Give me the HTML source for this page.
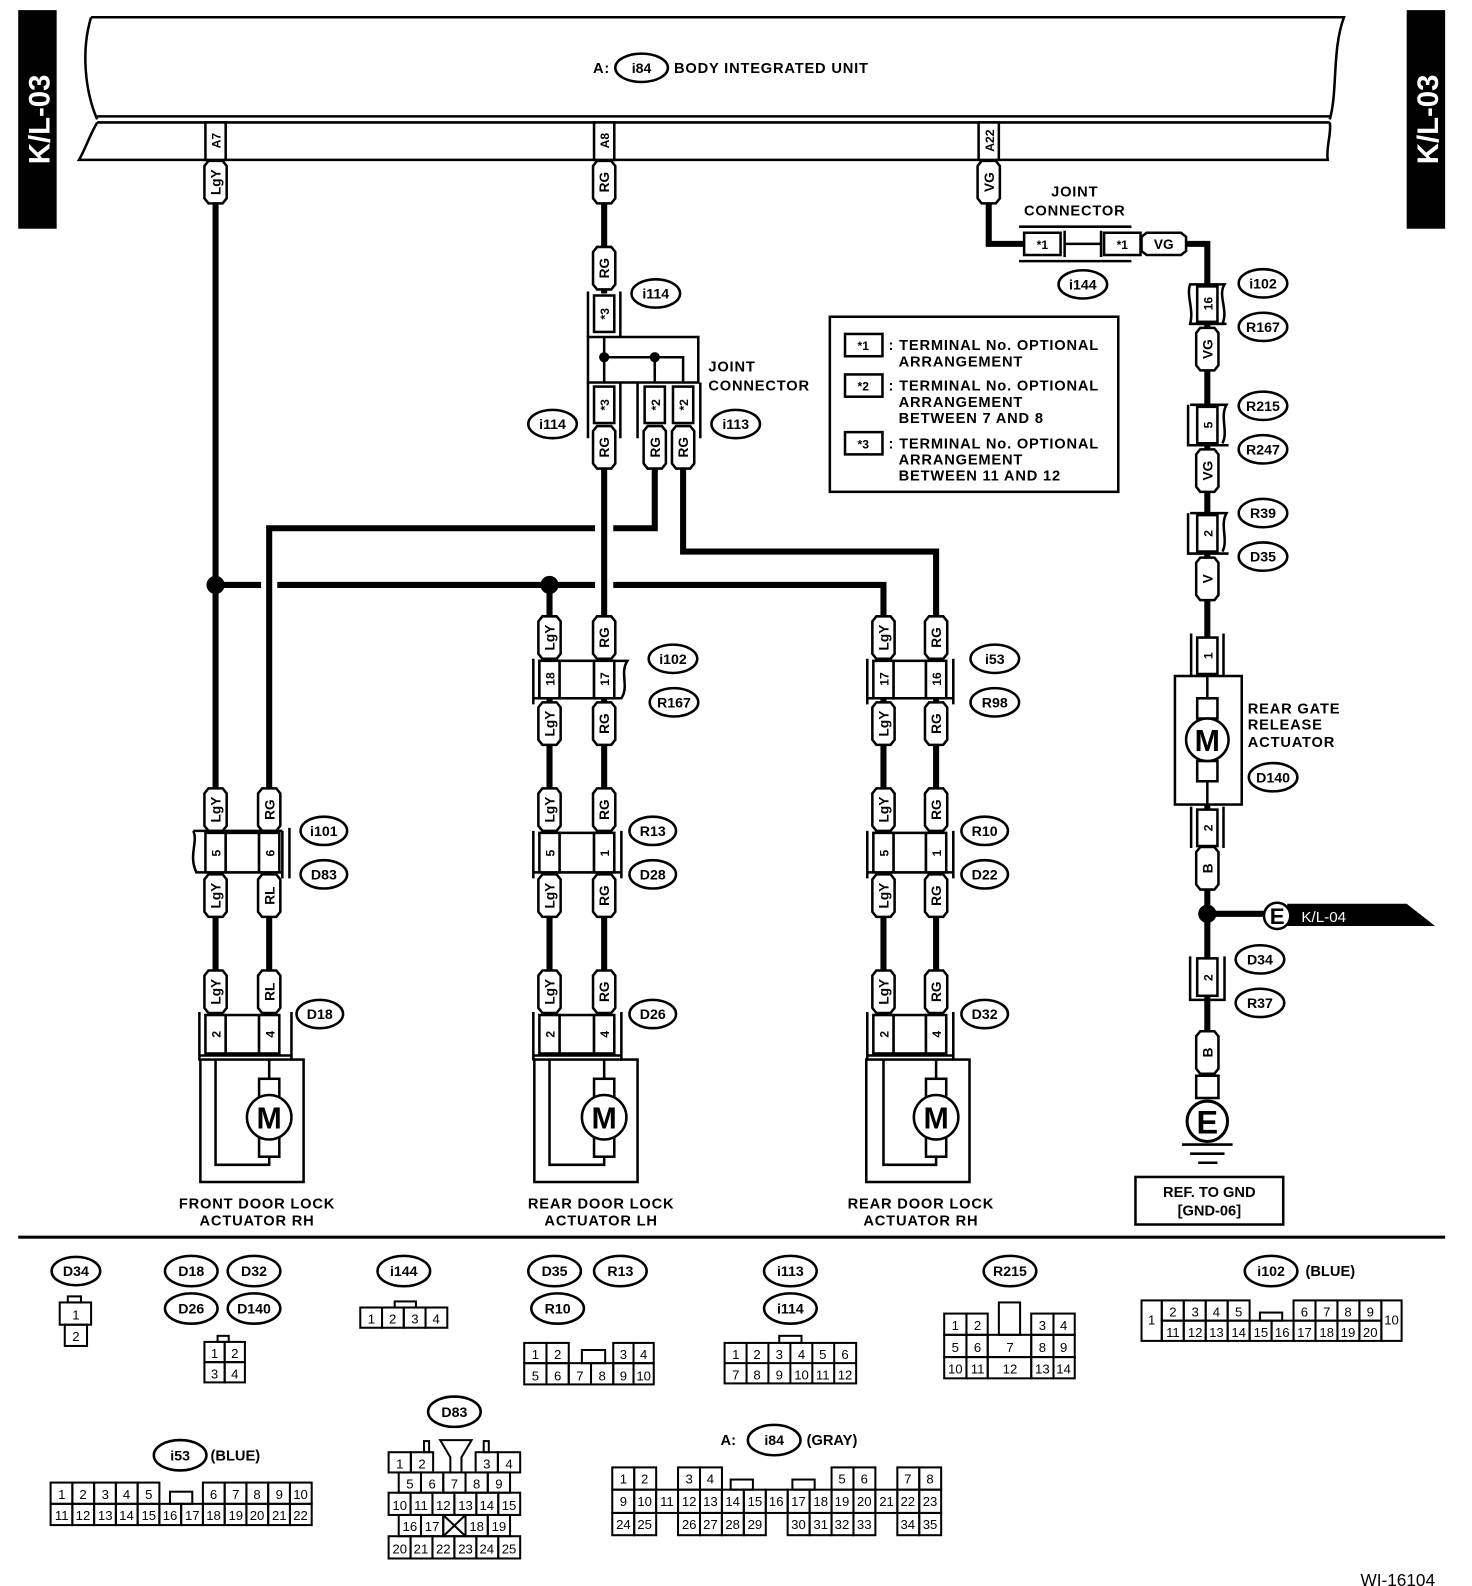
<!DOCTYPE html>
<html><head><meta charset="utf-8"><style>
html,body{margin:0;padding:0;background:#fff}
svg{display:block}
text{font-family:"Liberation Sans",Arial,sans-serif;fill:#000}
.w{stroke:#000;stroke-width:6;fill:none}
.l{stroke:#000;stroke-width:2.5;fill:none}
.lf{stroke:#000;stroke-width:2.5;fill:#fff}
.p{stroke:#000;stroke-width:2.5;fill:#fff}
.pt{font-size:13.5px;font-weight:bold;text-anchor:middle}
.o{stroke:#000;stroke-width:2.5;fill:#fff}
.ot{font-size:14px;font-weight:bold;text-anchor:middle}
.lb{font-size:14.5px;font-weight:bold;letter-spacing:0.8px;text-anchor:start}
.c{font-size:13px;text-anchor:middle}
.ct{font-size:12px;font-weight:bold;text-anchor:middle}
.bc rect{stroke:#000;stroke-width:2;fill:none}
</style></head><body>
<svg width="1472" height="1586" viewBox="0 0 1472 1586" xmlns="http://www.w3.org/2000/svg">
<g transform="scale(1.012)">
<rect x="18" y="10" width="38" height="216" fill="#000"/>
<text transform="translate(49,118) rotate(-90)" style="font-size:29px;font-weight:bold;fill:#fff;text-anchor:middle">K/L-03</text>
<rect x="1390" y="10" width="38" height="216" fill="#000"/>
<text transform="translate(1421,118) rotate(-90)" style="font-size:29px;font-weight:bold;fill:#fff;text-anchor:middle">K/L-03</text>

<path class="l" d="M90,17 H1328 C1316,50 1322,90 1314,118"/>
<path class="l" d="M90,17 C80,50 84,90 96,118 L96,118"/>
<path class="l" d="M96,115 H1314 M96,121 H1314"/>
<path class="l" d="M96,121 C88,135 84,148 78,158 H1312 C1310,145 1316,132 1314,121"/>
<text x="586" y="72" class="lb">A:</text>
<ellipse class="o" cx="634" cy="67" rx="26" ry="14"/>
<text x="634" y="72" class="ot">i84</text>
<text x="666" y="72" class="lb">BODY INTEGRATED UNIT</text>
<rect class="lf" x="203" y="121" width="20" height="37"/><text class="ct" transform="translate(218,139) rotate(-90)">A7</text>
<rect class="lf" x="587" y="121" width="20" height="37"/><text class="ct" transform="translate(602,139) rotate(-90)">A8</text>
<rect class="lf" x="967" y="121" width="20" height="37"/><text class="ct" transform="translate(982,139) rotate(-90)">A22</text>

<path class="w" d="M213,160 V1000"/>
<path class="w" d="M266,1000 V522 H588 M606,522 H647 V463"/>
<path class="w" d="M213,578 H258 M274,578 H588 M606,578 H873 V1000"/>
<path class="w" d="M543,578 V1000"/>
<path class="w" d="M597,160 V290 M597,420 V1000"/>
<path class="w" d="M675,463 V545 H925 V1000"/>
<path class="w" d="M977,160 V241 H1012"/>
<path class="w" d="M1170,241 H1193 V1063"/>
<path class="w" d="M1193,903 H1252"/>
<circle cx="213" cy="578" r="9"/><circle cx="543" cy="578" r="9"/><circle cx="1193" cy="903" r="9"/>

<path class="l" d="M581,288 V333 M613,288 V333"/>
<rect class="lf" x="587" y="292" width="20" height="36"/><text class="ct" transform="translate(602,310) rotate(-90)">*3</text>
<path class="l" d="M581,333 H690 V378 H581 Z M597,333 V378 M597,353 H675 V378 M647,353 V378"/>
<circle cx="597" cy="353" r="5"/><circle cx="647" cy="353" r="5"/>
<path class="l" d="M581,378 V433 M613,378 V433 M630,378 V433 M692,378 V433"/>
<rect class="lf" x="587" y="382" width="20" height="36"/><text class="ct" transform="translate(602,400) rotate(-90)">*3</text>
<rect class="lf" x="637" y="382" width="20" height="36"/><text class="ct" transform="translate(652,400) rotate(-90)">*2</text>
<rect class="lf" x="665" y="382" width="20" height="36"/><text class="ct" transform="translate(680,400) rotate(-90)">*2</text>
<ellipse class="o" cx="648" cy="290" rx="24" ry="14"/><text x="648" y="295" class="ot">i114</text>
<ellipse class="o" cx="546" cy="419" rx="24" ry="14"/><text x="546" y="424" class="ot">i114</text>
<ellipse class="o" cx="727" cy="419" rx="24" ry="14"/><text x="727" y="424" class="ot">i113</text>
<text x="700" y="367" class="lb">JOINT</text><text x="700" y="386" class="lb">CONNECTOR</text>

<text x="1062" y="194" class="lb" style="text-anchor:middle">JOINT</text>
<text x="1062" y="213" class="lb" style="text-anchor:middle">CONNECTOR</text>
<path class="l" d="M1007,224 H1118 M1007,258 H1118 M1052,241 H1088 M1052,228 V254 M1088,228 V254"/>
<rect class="lf" x="1012" y="230" width="36" height="22"/><text x="1030" y="246" class="ct">*1</text>
<rect class="lf" x="1091" y="230" width="36" height="22"/><text x="1109" y="246" class="ct">*1</text>
<path class="p" d="M1133,230 h34 l5,4 v14 l-5,4 h-34 l-5,-4 v-14z"/><text x="1150" y="246" class="pt">VG</text>
<ellipse class="o" cx="1070" cy="281" rx="24" ry="14"/><text x="1070" y="286" class="ot">i144</text>

<rect class="l" x="820" y="313" width="285" height="173"/>
<rect class="lf" x="835" y="330" width="37" height="22"/><text x="853" y="346" class="ct">*1</text>
<text x="878" y="346" class="lb">: TERMINAL No. OPTIONAL</text><text x="888" y="362" class="lb">ARRANGEMENT</text>
<rect class="lf" x="835" y="370" width="37" height="22"/><text x="853" y="386" class="ct">*2</text>
<text x="878" y="386" class="lb">: TERMINAL No. OPTIONAL</text><text x="888" y="402" class="lb">ARRANGEMENT</text><text x="888" y="418" class="lb">BETWEEN 7 AND 8</text>
<rect class="lf" x="835" y="427" width="37" height="22"/><text x="853" y="443" class="ct">*3</text>
<text x="878" y="443" class="lb">: TERMINAL No. OPTIONAL</text><text x="888" y="459" class="lb">ARRANGEMENT</text><text x="888" y="475" class="lb">BETWEEN 11 AND 12</text>

<g>
<path class="p" d="M202,164l4-5h14l4 5v32l-4 5h-14l-4-5z"/><text class="pt" transform="translate(218,180) rotate(-90)">LgY</text>
<path class="p" d="M586,164l4-5h14l4 5v32l-4 5h-14l-4-5z"/><text class="pt" transform="translate(602,180) rotate(-90)">RG</text>
<path class="p" d="M966,164l4-5h14l4 5v32l-4 5h-14l-4-5z"/><text class="pt" transform="translate(982,180) rotate(-90)">VG</text>
<path class="p" d="M586,249l4-5h14l4 5v32l-4 5h-14l-4-5z"/><text class="pt" transform="translate(602,265) rotate(-90)">RG</text>
<path class="p" d="M586,426l4-5h14l4 5v32l-4 5h-14l-4-5z"/><text class="pt" transform="translate(602,442) rotate(-90)">RG</text>
<path class="p" d="M636,426l4-5h14l4 5v32l-4 5h-14l-4-5z"/><text class="pt" transform="translate(652,442) rotate(-90)">RG</text>
<path class="p" d="M664,426l4-5h14l4 5v32l-4 5h-14l-4-5z"/><text class="pt" transform="translate(680,442) rotate(-90)">RG</text>
<path class="p" d="M202,784l4-5h14l4 5v32l-4 5h-14l-4-5z"/><text class="pt" transform="translate(218,800) rotate(-90)">LgY</text>
<path class="p" d="M255,784l4-5h14l4 5v32l-4 5h-14l-4-5z"/><text class="pt" transform="translate(271,800) rotate(-90)">RG</text>
<path class="p" d="M202,869l4-5h14l4 5v32l-4 5h-14l-4-5z"/><text class="pt" transform="translate(218,885) rotate(-90)">LgY</text>
<path class="p" d="M255,869l4-5h14l4 5v32l-4 5h-14l-4-5z"/><text class="pt" transform="translate(271,885) rotate(-90)">RL</text>
<path class="p" d="M202,964l4-5h14l4 5v32l-4 5h-14l-4-5z"/><text class="pt" transform="translate(218,980) rotate(-90)">LgY</text>
<path class="p" d="M255,964l4-5h14l4 5v32l-4 5h-14l-4-5z"/><text class="pt" transform="translate(271,980) rotate(-90)">RL</text>
<path class="p" d="M532,614l4-5h14l4 5v32l-4 5h-14l-4-5z"/><text class="pt" transform="translate(548,630) rotate(-90)">LgY</text>
<path class="p" d="M586,614l4-5h14l4 5v32l-4 5h-14l-4-5z"/><text class="pt" transform="translate(602,630) rotate(-90)">RG</text>
<path class="p" d="M532,699l4-5h14l4 5v32l-4 5h-14l-4-5z"/><text class="pt" transform="translate(548,715) rotate(-90)">LgY</text>
<path class="p" d="M586,699l4-5h14l4 5v32l-4 5h-14l-4-5z"/><text class="pt" transform="translate(602,715) rotate(-90)">RG</text>
<path class="p" d="M532,784l4-5h14l4 5v32l-4 5h-14l-4-5z"/><text class="pt" transform="translate(548,800) rotate(-90)">LgY</text>
<path class="p" d="M586,784l4-5h14l4 5v32l-4 5h-14l-4-5z"/><text class="pt" transform="translate(602,800) rotate(-90)">RG</text>
<path class="p" d="M532,869l4-5h14l4 5v32l-4 5h-14l-4-5z"/><text class="pt" transform="translate(548,885) rotate(-90)">LgY</text>
<path class="p" d="M586,869l4-5h14l4 5v32l-4 5h-14l-4-5z"/><text class="pt" transform="translate(602,885) rotate(-90)">RG</text>
<path class="p" d="M532,964l4-5h14l4 5v32l-4 5h-14l-4-5z"/><text class="pt" transform="translate(548,980) rotate(-90)">LgY</text>
<path class="p" d="M586,964l4-5h14l4 5v32l-4 5h-14l-4-5z"/><text class="pt" transform="translate(602,980) rotate(-90)">RG</text>
<path class="p" d="M862,614l4-5h14l4 5v32l-4 5h-14l-4-5z"/><text class="pt" transform="translate(878,630) rotate(-90)">LgY</text>
<path class="p" d="M914,614l4-5h14l4 5v32l-4 5h-14l-4-5z"/><text class="pt" transform="translate(930,630) rotate(-90)">RG</text>
<path class="p" d="M862,699l4-5h14l4 5v32l-4 5h-14l-4-5z"/><text class="pt" transform="translate(878,715) rotate(-90)">LgY</text>
<path class="p" d="M914,699l4-5h14l4 5v32l-4 5h-14l-4-5z"/><text class="pt" transform="translate(930,715) rotate(-90)">RG</text>
<path class="p" d="M862,784l4-5h14l4 5v32l-4 5h-14l-4-5z"/><text class="pt" transform="translate(878,800) rotate(-90)">LgY</text>
<path class="p" d="M914,784l4-5h14l4 5v32l-4 5h-14l-4-5z"/><text class="pt" transform="translate(930,800) rotate(-90)">RG</text>
<path class="p" d="M862,869l4-5h14l4 5v32l-4 5h-14l-4-5z"/><text class="pt" transform="translate(878,885) rotate(-90)">LgY</text>
<path class="p" d="M914,869l4-5h14l4 5v32l-4 5h-14l-4-5z"/><text class="pt" transform="translate(930,885) rotate(-90)">RG</text>
<path class="p" d="M862,964l4-5h14l4 5v32l-4 5h-14l-4-5z"/><text class="pt" transform="translate(878,980) rotate(-90)">LgY</text>
<path class="p" d="M914,964l4-5h14l4 5v32l-4 5h-14l-4-5z"/><text class="pt" transform="translate(930,980) rotate(-90)">RG</text>
<path class="p" d="M1182,329l4-5h14l4 5v32l-4 5h-14l-4-5z"/><text class="pt" transform="translate(1198,345) rotate(-90)">VG</text>
<path class="p" d="M1182,449l4-5h14l4 5v32l-4 5h-14l-4-5z"/><text class="pt" transform="translate(1198,465) rotate(-90)">VG</text>
<path class="p" d="M1182,556l4-5h14l4 5v32l-4 5h-14l-4-5z"/><text class="pt" transform="translate(1198,572) rotate(-90)">V</text>
<path class="p" d="M1182,842l4-5h14l4 5v32l-4 5h-14l-4-5z"/><text class="pt" transform="translate(1198,858) rotate(-90)">B</text>
<path class="p" d="M1182,1024l4-5h14l4 5v32l-4 5h-14l-4-5z"/><text class="pt" transform="translate(1198,1040) rotate(-90)">B</text>
</g>

<path class="l" d="M191,821 H279 M279,821 V868 M286,818 V868"/>
<path class="lf" d="M191,821 C196,832 186,845 194,862 H279"/>
<rect class="lf" x="203" y="823" width="20" height="39"/><rect class="lf" x="223" y="823" width="33" height="39"/><rect class="lf" x="256" y="823" width="20" height="39"/>
<text class="ct" transform="translate(218,843) rotate(-90)">5</text><text class="ct" transform="translate(271,843) rotate(-90)">6</text>
<path class="l" d="M197,1000 V1048 M288,1000 V1048 M197,1043 H288"/>
<rect class="lf" x="203" y="1003" width="20" height="38"/><rect class="lf" x="223" y="1003" width="33" height="38"/><rect class="lf" x="256" y="1003" width="20" height="38"/>
<text class="ct" transform="translate(218,1022) rotate(-90)">2</text><text class="ct" transform="translate(271,1022) rotate(-90)">4</text>
<rect class="l" x="198" y="1047" width="102" height="121"/>
<path class="l" d="M213,1047 V1151 H266 V1143 M266,1047 V1066"/>
<rect class="lf" x="256" y="1066" width="20" height="18"/><rect class="lf" x="256" y="1124" width="20" height="19"/>
<circle class="lf" cx="266" cy="1104" r="22"/><text x="266" y="1115" style="font-size:30px;font-weight:bold;text-anchor:middle">M</text>
<text x="254" y="1194" class="lb" style="text-anchor:middle">FRONT DOOR LOCK</text><text x="254" y="1211" class="lb" style="text-anchor:middle">ACTUATOR RH</text>
<ellipse class="o" cx="320" cy="821" rx="23" ry="14"/><text x="320" y="826" class="ot">i101</text>
<ellipse class="o" cx="320" cy="864" rx="23" ry="14"/><text x="320" y="869" class="ot">D83</text>
<ellipse class="o" cx="316" cy="1002" rx="23" ry="14"/><text x="316" y="1007" class="ot">D18</text>

<path class="l" d="M527,651 V696 M527,690 H614"/>
<path class="lf" d="M533,653 H620 C612,665 622,678 614,690 H533 Z"/>
<rect class="lf" x="533" y="653" width="20" height="37"/><rect class="lf" x="553" y="653" width="34" height="37"/><rect class="lf" x="587" y="653" width="20" height="37"/>
<text class="ct" transform="translate(548,671) rotate(-90)">18</text><text class="ct" transform="translate(602,671) rotate(-90)">17</text>
<path class="l" d="M527,821 V868 M614,821 V868 M527,862 H614"/>
<rect class="lf" x="533" y="823" width="20" height="39"/><rect class="lf" x="553" y="823" width="34" height="39"/><rect class="lf" x="587" y="823" width="20" height="39"/>
<text class="ct" transform="translate(548,843) rotate(-90)">5</text><text class="ct" transform="translate(602,843) rotate(-90)">1</text>
<path class="l" d="M527,1000 V1048 M614,1000 V1048 M527,1043 H614"/>
<rect class="lf" x="533" y="1003" width="20" height="38"/><rect class="lf" x="553" y="1003" width="34" height="38"/><rect class="lf" x="587" y="1003" width="20" height="38"/>
<text class="ct" transform="translate(548,1022) rotate(-90)">2</text><text class="ct" transform="translate(602,1022) rotate(-90)">4</text>
<rect class="l" x="528" y="1047" width="102" height="121"/>
<path class="l" d="M543,1047 V1151 H597 V1143 M597,1047 V1066"/>
<rect class="lf" x="587" y="1066" width="20" height="18"/><rect class="lf" x="587" y="1124" width="20" height="19"/>
<circle class="lf" cx="597" cy="1104" r="22"/><text x="597" y="1115" style="font-size:30px;font-weight:bold;text-anchor:middle">M</text>
<text x="594" y="1194" class="lb" style="text-anchor:middle">REAR DOOR LOCK</text><text x="594" y="1211" class="lb" style="text-anchor:middle">ACTUATOR LH</text>
<ellipse class="o" cx="665" cy="651" rx="24" ry="14"/><text x="665" y="656" class="ot">i102</text>
<ellipse class="o" cx="666" cy="694" rx="24" ry="14"/><text x="666" y="699" class="ot">R167</text>
<ellipse class="o" cx="645" cy="821" rx="23" ry="14"/><text x="645" y="826" class="ot">R13</text>
<ellipse class="o" cx="645" cy="864" rx="23" ry="14"/><text x="645" y="869" class="ot">D28</text>
<ellipse class="o" cx="645" cy="1002" rx="23" ry="14"/><text x="645" y="1007" class="ot">D26</text>

<path class="l" d="M857,651 V696 M942,651 V696 M857,690 H942"/>
<rect class="lf" x="863" y="653" width="20" height="37"/><rect class="lf" x="883" y="653" width="32" height="37"/><rect class="lf" x="915" y="653" width="20" height="37"/>
<text class="ct" transform="translate(878,671) rotate(-90)">17</text><text class="ct" transform="translate(930,671) rotate(-90)">16</text>
<path class="l" d="M857,821 V868 M942,821 V868 M857,862 H942"/>
<rect class="lf" x="863" y="823" width="20" height="39"/><rect class="lf" x="883" y="823" width="32" height="39"/><rect class="lf" x="915" y="823" width="20" height="39"/>
<text class="ct" transform="translate(878,843) rotate(-90)">5</text><text class="ct" transform="translate(930,843) rotate(-90)">1</text>
<path class="l" d="M857,1000 V1048 M942,1000 V1048 M857,1043 H942"/>
<rect class="lf" x="863" y="1003" width="20" height="38"/><rect class="lf" x="883" y="1003" width="32" height="38"/><rect class="lf" x="915" y="1003" width="20" height="38"/>
<text class="ct" transform="translate(878,1022) rotate(-90)">2</text><text class="ct" transform="translate(930,1022) rotate(-90)">4</text>
<rect class="l" x="856" y="1047" width="102" height="121"/>
<path class="l" d="M873,1047 V1151 H925 V1143 M925,1047 V1066"/>
<rect class="lf" x="915" y="1066" width="20" height="18"/><rect class="lf" x="915" y="1124" width="20" height="19"/>
<circle class="lf" cx="925" cy="1104" r="22"/><text x="925" y="1115" style="font-size:30px;font-weight:bold;text-anchor:middle">M</text>
<text x="910" y="1194" class="lb" style="text-anchor:middle">REAR DOOR LOCK</text><text x="910" y="1211" class="lb" style="text-anchor:middle">ACTUATOR RH</text>
<ellipse class="o" cx="983" cy="651" rx="24" ry="14"/><text x="983" y="656" class="ot">i53</text>
<ellipse class="o" cx="983" cy="694" rx="24" ry="14"/><text x="983" y="699" class="ot">R98</text>
<ellipse class="o" cx="973" cy="821" rx="23" ry="14"/><text x="973" y="826" class="ot">R10</text>
<ellipse class="o" cx="973" cy="864" rx="23" ry="14"/><text x="973" y="869" class="ot">D22</text>
<ellipse class="o" cx="973" cy="1002" rx="23" ry="14"/><text x="973" y="1007" class="ot">D32</text>

<path class="lf" d="M1176,281 H1210 C1203,292 1214,306 1208,320 H1176 C1180,306 1172,292 1176,281Z"/>
<rect class="lf" x="1183" y="283" width="20" height="35"/><text class="ct" transform="translate(1198,300) rotate(-90)">16</text>
<path class="l" d="M1176,320 H1212"/>
<path class="l" d="M1174,400 V440 H1214 M1176,400 H1212 C1205,412 1214,426 1208,438"/>
<rect class="lf" x="1183" y="402" width="20" height="36"/><text class="ct" transform="translate(1198,420) rotate(-90)">5</text>
<path class="l" d="M1174,507 V547 H1214 M1176,507 H1212 C1205,519 1214,533 1208,545"/>
<rect class="lf" x="1183" y="509" width="20" height="36"/><text class="ct" transform="translate(1198,527) rotate(-90)">2</text>
<ellipse class="o" cx="1248" cy="280" rx="24" ry="14"/><text x="1248" y="285" class="ot">i102</text>
<ellipse class="o" cx="1248" cy="323" rx="24" ry="14"/><text x="1248" y="328" class="ot">R167</text>
<ellipse class="o" cx="1248" cy="401" rx="24" ry="14"/><text x="1248" y="406" class="ot">R215</text>
<ellipse class="o" cx="1248" cy="444" rx="24" ry="14"/><text x="1248" y="449" class="ot">R247</text>
<ellipse class="o" cx="1248" cy="507" rx="24" ry="14"/><text x="1248" y="512" class="ot">R39</text>
<ellipse class="o" cx="1248" cy="550" rx="24" ry="14"/><text x="1248" y="555" class="ot">D35</text>
<path class="l" d="M1177,626 V668 M1209,626 V668"/>
<rect class="lf" x="1183" y="630" width="20" height="36"/><text class="ct" transform="translate(1198,648) rotate(-90)">1</text>
<rect class="lf" x="1161" y="668" width="66" height="127"/>
<path class="l" d="M1193,668 V690 M1193,772 V795"/>
<rect class="lf" x="1183" y="690" width="20" height="20"/><rect class="lf" x="1183" y="752" width="20" height="20"/>
<circle class="lf" cx="1193" cy="731" r="21"/><text x="1193" y="742" style="font-size:30px;font-weight:bold;text-anchor:middle">M</text>
<text x="1233" y="705" class="lb">REAR GATE</text><text x="1233" y="721" class="lb">RELEASE</text><text x="1233" y="738" class="lb">ACTUATOR</text>
<ellipse class="o" cx="1258" cy="768" rx="24" ry="14"/><text x="1258" y="773" class="ot">D140</text>
<path class="l" d="M1177,797 V838 M1209,797 V838"/>
<rect class="lf" x="1183" y="800" width="20" height="36"/><text class="ct" transform="translate(1198,818) rotate(-90)">2</text>
<path d="M1272,893 H1390 L1418,915 H1272 Z" fill="#000"/>
<circle class="lf" cx="1262" cy="905" r="13"/><text x="1262" y="913" style="font-size:22px;font-weight:bold;text-anchor:middle">E</text>
<text x="1286" y="911" style="font-size:15px;fill:#fff">K/L-04</text>
<path class="l" d="M1176,945 V988 H1210 V945"/>
<rect class="lf" x="1183" y="947" width="20" height="37"/><text class="ct" transform="translate(1198,966) rotate(-90)">2</text>
<ellipse class="o" cx="1245" cy="948" rx="24" ry="14"/><text x="1245" y="953" class="ot">D34</text>
<ellipse class="o" cx="1245" cy="991" rx="24" ry="14"/><text x="1245" y="996" class="ot">R37</text>
<rect class="lf" x="1182" y="1063" width="22" height="22"/>
<circle class="lf" cx="1193" cy="1108" r="20" style="stroke-width:3"/><text x="1193" y="1120" style="font-size:32px;font-weight:bold;text-anchor:middle">E</text>
<path class="l" d="M1168,1131 H1218 M1176,1140 H1210 M1184,1149 H1203"/>
<rect class="l" x="1122" y="1163" width="146" height="47"/>
<text x="1195" y="1183" class="lb" style="text-anchor:middle;letter-spacing:0">REF. TO GND</text>
<text x="1195" y="1201" class="lb" style="text-anchor:middle;letter-spacing:0">[GND-06]</text>

<rect x="18" y="1221" width="1410" height="3" fill="#000"/>

<g class="c bc">
<ellipse class="o" cx="75" cy="1256" rx="24" ry="14"/><text x="75" y="1261" class="ot">D34</text>
<rect x="67" y="1281" width="13" height="6"/>
<rect x="59" y="1287" width="31" height="22"/><text x="75" y="1304">1</text>
<rect x="64" y="1309" width="22" height="21"/><text x="75" y="1325">2</text>

<ellipse class="o" cx="189" cy="1256" rx="26" ry="15"/><text x="189" y="1261" class="ot">D18</text>
<ellipse class="o" cx="251" cy="1256" rx="26" ry="15"/><text x="251" y="1261" class="ot">D32</text>
<ellipse class="o" cx="189" cy="1293" rx="26" ry="15"/><text x="189" y="1298" class="ot">D26</text>
<ellipse class="o" cx="251" cy="1293" rx="26" ry="15"/><text x="251" y="1298" class="ot">D140</text>
<rect x="215" y="1320" width="11" height="6"/>
<rect x="202" y="1326" width="20" height="20"/><rect x="222" y="1326" width="20" height="20"/><rect x="202" y="1346" width="20" height="20"/><rect x="222" y="1346" width="20" height="20"/>
<text x="212" y="1342">1</text><text x="232" y="1342">2</text><text x="212" y="1362">3</text><text x="232" y="1362">4</text>

<ellipse class="o" cx="399" cy="1256" rx="26" ry="15"/><text x="399" y="1261" class="ot">i144</text>
<rect x="390" y="1286" width="21" height="6"/>
<rect x="356" y="1292" width="21.5" height="20"/><rect x="377.5" y="1292" width="21.5" height="20"/><rect x="399" y="1292" width="21.5" height="20"/><rect x="420.5" y="1292" width="21.5" height="20"/>
<text x="367" y="1308">1</text><text x="388" y="1308">2</text><text x="410" y="1308">3</text><text x="431" y="1308">4</text>

<ellipse class="o" cx="548" cy="1256" rx="26" ry="15"/><text x="548" y="1261" class="ot">D35</text>
<ellipse class="o" cx="613" cy="1256" rx="26" ry="15"/><text x="613" y="1261" class="ot">R13</text>
<ellipse class="o" cx="551" cy="1293" rx="26" ry="15"/><text x="551" y="1298" class="ot">R10</text>
<rect x="575" y="1334" width="23" height="13"/>
<rect x="518" y="1327" width="22" height="20"/><rect x="540" y="1327" width="22" height="20"/><rect x="606" y="1327" width="20" height="20"/><rect x="626" y="1327" width="20" height="20"/>
<rect x="518" y="1347" width="22" height="21"/><rect x="540" y="1347" width="22" height="21"/><rect x="562" y="1347" width="22" height="21"/><rect x="584" y="1347" width="22" height="21"/><rect x="606" y="1347" width="20" height="21"/><rect x="626" y="1347" width="20" height="21"/>
<text x="529" y="1343">1</text><text x="551" y="1343">2</text><text x="616" y="1343">3</text><text x="636" y="1343">4</text>
<text x="529" y="1364">5</text><text x="551" y="1364">6</text><text x="573" y="1364">7</text><text x="595" y="1364">8</text><text x="616" y="1364">9</text><text x="636" y="1364">10</text>

<ellipse class="o" cx="781" cy="1256" rx="26" ry="15"/><text x="781" y="1261" class="ot">i113</text>
<ellipse class="o" cx="781" cy="1293" rx="26" ry="15"/><text x="781" y="1298" class="ot">i114</text>
<rect x="770" y="1320" width="22" height="7"/>
<rect x="716" y="1327" width="130" height="40"/>
<path class="l" style="stroke-width:2" d="M716,1347 H846 M737.7,1327 V1367 M759.3,1327 V1367 M781,1327 V1367 M802.7,1327 V1367 M824.3,1327 V1367"/>
<text x="727" y="1343">1</text><text x="748" y="1343">2</text><text x="770" y="1343">3</text><text x="792" y="1343">4</text><text x="813" y="1343">5</text><text x="835" y="1343">6</text>
<text x="727" y="1363">7</text><text x="748" y="1363">8</text><text x="770" y="1363">9</text><text x="792" y="1363">10</text><text x="813" y="1363">11</text><text x="835" y="1363">12</text>

<ellipse class="o" cx="998" cy="1256" rx="26" ry="15"/><text x="998" y="1261" class="ot">R215</text>
<rect x="987" y="1287" width="21" height="32"/>
<rect x="933" y="1298" width="22" height="21"/><rect x="955" y="1298" width="21" height="21"/><rect x="1019" y="1298" width="22" height="21"/><rect x="1041" y="1298" width="21" height="21"/>
<rect x="933" y="1319" width="22" height="22"/><rect x="955" y="1319" width="21" height="22"/><rect x="976" y="1319" width="43" height="22"/><rect x="1019" y="1319" width="22" height="22"/><rect x="1041" y="1319" width="21" height="22"/>
<rect x="933" y="1341" width="22" height="21"/><rect x="955" y="1341" width="21" height="21"/><rect x="976" y="1341" width="43" height="21"/><rect x="1019" y="1341" width="22" height="21"/><rect x="1041" y="1341" width="21" height="21"/>
<text x="944" y="1314">1</text><text x="966" y="1314">2</text><text x="1030" y="1314">3</text><text x="1051" y="1314">4</text>
<text x="944" y="1336">5</text><text x="966" y="1336">6</text><text x="998" y="1336">7</text><text x="1030" y="1336">8</text><text x="1051" y="1336">9</text>
<text x="944" y="1357">10</text><text x="966" y="1357">11</text><text x="998" y="1357">12</text><text x="1030" y="1357">13</text><text x="1051" y="1357">14</text>

<ellipse class="o" cx="1256" cy="1256" rx="26" ry="15"/><text x="1256" y="1261" class="ot">i102</text>
<text x="1290" y="1261" class="lb" style="letter-spacing:0">(BLUE)</text>
<rect x="1245" y="1297" width="22" height="8"/>
<rect x="1128" y="1285" width="20" height="40"/><rect x="1365" y="1285" width="20" height="40"/>
<rect x="1148" y="1285" width="21.7" height="20"/><rect x="1169.7" y="1285" width="21.7" height="20"/><rect x="1191.4" y="1285" width="21.7" height="20"/><rect x="1213.1" y="1285" width="21.7" height="20"/>
<rect x="1278.2" y="1285" width="21.7" height="20"/><rect x="1299.9" y="1285" width="21.7" height="20"/><rect x="1321.6" y="1285" width="21.7" height="20"/><rect x="1343.3" y="1285" width="21.7" height="20"/>
<rect x="1148" y="1305" width="21.7" height="20"/><rect x="1169.7" y="1305" width="21.7" height="20"/><rect x="1191.4" y="1305" width="21.7" height="20"/><rect x="1213.1" y="1305" width="21.7" height="20"/><rect x="1234.8" y="1305" width="21.7" height="20"/><rect x="1256.5" y="1305" width="21.7" height="20"/><rect x="1278.2" y="1305" width="21.7" height="20"/><rect x="1299.9" y="1305" width="21.7" height="20"/><rect x="1321.6" y="1305" width="21.7" height="20"/><rect x="1343.3" y="1305" width="21.7" height="20"/>
<text x="1138" y="1309">1</text><text x="1375" y="1309">10</text>
<text x="1159" y="1301">2</text><text x="1181" y="1301">3</text><text x="1202" y="1301">4</text><text x="1224" y="1301">5</text>
<text x="1289" y="1301">6</text><text x="1311" y="1301">7</text><text x="1332" y="1301">8</text><text x="1354" y="1301">9</text>
<text x="1159" y="1321">11</text><text x="1181" y="1321">12</text><text x="1202" y="1321">13</text><text x="1224" y="1321">14</text><text x="1246" y="1321">15</text><text x="1267" y="1321">16</text><text x="1289" y="1321">17</text><text x="1311" y="1321">18</text><text x="1332" y="1321">19</text><text x="1354" y="1321">20</text>

<ellipse class="o" cx="178" cy="1438" rx="26" ry="15"/><text x="178" y="1443" class="ot">i53</text>
<text x="208" y="1443" class="lb" style="letter-spacing:0">(BLUE)</text>
<rect x="168" y="1474" width="22" height="12"/>
<rect x="50" y="1465" width="21.5" height="21"/><rect x="71.5" y="1465" width="21.5" height="21"/><rect x="93" y="1465" width="21.5" height="21"/><rect x="114.5" y="1465" width="21.5" height="21"/><rect x="136" y="1465" width="21.5" height="21"/>
<rect x="200.5" y="1465" width="21.5" height="21"/><rect x="222" y="1465" width="21.5" height="21"/><rect x="243.5" y="1465" width="21.5" height="21"/><rect x="265" y="1465" width="21.5" height="21"/><rect x="286.5" y="1465" width="21.5" height="21"/>
<rect x="50" y="1486" width="21.5" height="21"/><rect x="71.5" y="1486" width="21.5" height="21"/><rect x="93" y="1486" width="21.5" height="21"/><rect x="114.5" y="1486" width="21.5" height="21"/><rect x="136" y="1486" width="21.5" height="21"/><rect x="157.5" y="1486" width="21.5" height="21"/><rect x="179" y="1486" width="21.5" height="21"/><rect x="200.5" y="1486" width="21.5" height="21"/><rect x="222" y="1486" width="21.5" height="21"/><rect x="243.5" y="1486" width="21.5" height="21"/><rect x="265" y="1486" width="21.5" height="21"/><rect x="286.5" y="1486" width="21.5" height="21"/>
<text x="61" y="1481">1</text><text x="82" y="1481">2</text><text x="104" y="1481">3</text><text x="125" y="1481">4</text><text x="147" y="1481">5</text>
<text x="211" y="1481">6</text><text x="233" y="1481">7</text><text x="254" y="1481">8</text><text x="276" y="1481">9</text><text x="297" y="1481">10</text>
<text x="61" y="1502">11</text><text x="82" y="1502">12</text><text x="104" y="1502">13</text><text x="125" y="1502">14</text><text x="147" y="1502">15</text><text x="168" y="1502">16</text><text x="190" y="1502">17</text><text x="211" y="1502">18</text><text x="233" y="1502">19</text><text x="254" y="1502">20</text><text x="276" y="1502">21</text><text x="297" y="1502">22</text>

<ellipse class="o" cx="449" cy="1395" rx="26" ry="15"/><text x="449" y="1400" class="ot">D83</text>
<rect x="419" y="1424" width="5" height="11"/><rect x="478" y="1424" width="5" height="11"/>
<path class="l" style="stroke-width:2" d="M435,1423 H466 L456,1440 V1455 H445 V1440 Z"/>
<rect x="384" y="1435" width="22" height="20"/><rect x="406" y="1435" width="22" height="20"/><rect x="470" y="1435" width="22" height="20"/><rect x="492" y="1435" width="22" height="20"/>
<rect x="394" y="1455" width="22" height="20"/><rect x="416" y="1455" width="22" height="20"/><rect x="438" y="1455" width="22" height="20"/><rect x="460" y="1455" width="22" height="20"/><rect x="482" y="1455" width="22" height="20"/>
<rect x="384" y="1475" width="21.7" height="22"/><rect x="405.7" y="1475" width="21.7" height="22"/><rect x="427.3" y="1475" width="21.7" height="22"/><rect x="449" y="1475" width="21.7" height="22"/><rect x="470.7" y="1475" width="21.7" height="22"/><rect x="492.3" y="1475" width="21.7" height="22"/>
<rect x="394" y="1497" width="22" height="21"/><rect x="416" y="1497" width="22" height="21"/><rect x="438" y="1497" width="22" height="21"/><rect x="460" y="1497" width="22" height="21"/><rect x="482" y="1497" width="22" height="21"/>
<path class="l" style="stroke-width:2" d="M438,1497 L460,1518 M460,1497 L438,1518"/>
<rect x="384" y="1518" width="21.7" height="22"/><rect x="405.7" y="1518" width="21.7" height="22"/><rect x="427.3" y="1518" width="21.7" height="22"/><rect x="449" y="1518" width="21.7" height="22"/><rect x="470.7" y="1518" width="21.7" height="22"/><rect x="492.3" y="1518" width="21.7" height="22"/>
<text x="395" y="1451">1</text><text x="417" y="1451">2</text><text x="481" y="1451">3</text><text x="503" y="1451">4</text>
<text x="405" y="1471">5</text><text x="427" y="1471">6</text><text x="449" y="1471">7</text><text x="471" y="1471">8</text><text x="493" y="1471">9</text>
<text x="395" y="1492">10</text><text x="416" y="1492">11</text><text x="438" y="1492">12</text><text x="460" y="1492">13</text><text x="481" y="1492">14</text><text x="503" y="1492">15</text>
<text x="405" y="1513">16</text><text x="427" y="1513">17</text><text x="471" y="1513">18</text><text x="493" y="1513">19</text>
<text x="395" y="1535">20</text><text x="416" y="1535">21</text><text x="438" y="1535">22</text><text x="460" y="1535">23</text><text x="481" y="1535">24</text><text x="503" y="1535">25</text>

<text x="712" y="1428" class="lb" style="letter-spacing:0">A:</text>
<ellipse class="o" cx="765" cy="1423" rx="26" ry="15"/><text x="765" y="1428" class="ot">i84</text>
<text x="797" y="1428" class="lb" style="letter-spacing:0">(GRAY)</text>
<rect x="722" y="1462" width="22" height="10"/><rect x="783" y="1462" width="22" height="10"/>
<rect x="605" y="1450" width="21.7" height="22"/><rect x="626.7" y="1450" width="21.7" height="22"/><rect x="670" y="1450" width="21.7" height="22"/><rect x="691.7" y="1450" width="21.7" height="22"/><rect x="821.7" y="1450" width="21.7" height="22"/><rect x="843.3" y="1450" width="21.7" height="22"/><rect x="886.7" y="1450" width="21.7" height="22"/><rect x="908.3" y="1450" width="21.7" height="22"/>
<rect x="605" y="1472" width="21.7" height="23"/><rect x="626.7" y="1472" width="21.7" height="23"/><rect x="648.3" y="1472" width="21.7" height="23"/><rect x="670" y="1472" width="21.7" height="23"/><rect x="691.7" y="1472" width="21.7" height="23"/><rect x="713.3" y="1472" width="21.7" height="23"/><rect x="735" y="1472" width="21.7" height="23"/><rect x="756.7" y="1472" width="21.7" height="23"/><rect x="778.3" y="1472" width="21.7" height="23"/><rect x="800" y="1472" width="21.7" height="23"/><rect x="821.7" y="1472" width="21.7" height="23"/><rect x="843.3" y="1472" width="21.7" height="23"/><rect x="865" y="1472" width="21.7" height="23"/><rect x="886.7" y="1472" width="21.7" height="23"/><rect x="908.3" y="1472" width="21.7" height="23"/>
<rect x="605" y="1495" width="21.7" height="22"/><rect x="626.7" y="1495" width="21.7" height="22"/><rect x="670" y="1495" width="21.7" height="22"/><rect x="691.7" y="1495" width="21.7" height="22"/><rect x="713.3" y="1495" width="21.7" height="22"/><rect x="735" y="1495" width="21.7" height="22"/><rect x="778.3" y="1495" width="21.7" height="22"/><rect x="800" y="1495" width="21.7" height="22"/><rect x="821.7" y="1495" width="21.7" height="22"/><rect x="843.3" y="1495" width="21.7" height="22"/><rect x="886.7" y="1495" width="21.7" height="22"/><rect x="908.3" y="1495" width="21.7" height="22"/>
<text x="616" y="1466">1</text><text x="637" y="1466">2</text><text x="681" y="1466">3</text><text x="702" y="1466">4</text><text x="832" y="1466">5</text><text x="854" y="1466">6</text><text x="897" y="1466">7</text><text x="919" y="1466">8</text>
<text x="616" y="1488">9</text><text x="637" y="1488">10</text><text x="659" y="1488">11</text><text x="681" y="1488">12</text><text x="702" y="1488">13</text><text x="724" y="1488">14</text><text x="746" y="1488">15</text><text x="767" y="1488">16</text><text x="789" y="1488">17</text><text x="811" y="1488">18</text><text x="832" y="1488">19</text><text x="854" y="1488">20</text><text x="876" y="1488">21</text><text x="897" y="1488">22</text><text x="919" y="1488">23</text>
<text x="616" y="1511">24</text><text x="637" y="1511">25</text><text x="681" y="1511">26</text><text x="702" y="1511">27</text><text x="724" y="1511">28</text><text x="746" y="1511">29</text><text x="789" y="1511">30</text><text x="811" y="1511">31</text><text x="832" y="1511">32</text><text x="854" y="1511">33</text><text x="897" y="1511">34</text><text x="919" y="1511">35</text>
</g>
<text x="1418" y="1567" style="font-size:17px;text-anchor:end">WI-16104</text>
</g>
</svg>
</body></html>
